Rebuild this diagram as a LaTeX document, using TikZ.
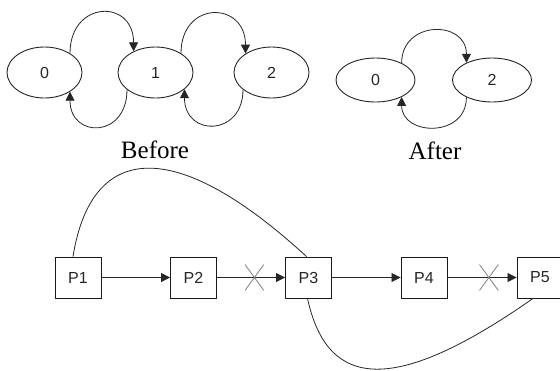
\documentclass[tikz,border=0pt]{standalone}
\usepackage{fontspec}
\setmainfont{Liberation Serif}
\setsansfont{Liberation Sans}
\usetikzlibrary{arrows.meta,positioning,shapes.geometric,shapes.misc}

\begin{document}
\begin{tikzpicture}[x=1pt,y=-1pt,>={Triangle[length=9pt,width=9pt]},
    every node/.style={font=\sffamily\fontsize{16}{18}\selectfont,text=black!85}]
  \tikzstyle{nodeE}=[ellipse,draw=black!85,line width=0.9pt,inner sep=0pt,minimum width=75pt,minimum height=51pt]
  \tikzstyle{nodeA}=[nodeE,minimum width=79pt,minimum height=44pt]
  \tikzstyle{nodeP}=[rectangle,draw=black!90,line width=0.9pt,minimum width=46pt,minimum height=41pt]
  \tikzstyle{nodeX}=[cross out,draw=gray,line width=0.8pt,minimum width=18pt,minimum height=25pt,inner sep=0pt]
  \tikzstyle{link}=[draw=black!85,line width=0.8pt]
  \tikzstyle{caption}=[font=\rmfamily\fontsize{25}{28}\selectfont,text=black]

  \useasboundingbox (0,0) rectangle (560,370);

  % before
  \node[nodeE] (s_0) at (44.5,72.5) {0};
  \node[nodeE] (s_1) at (155.5,72.5) {1};
  \node[nodeE] (s_2) at (271.5,72.5) {2};
  \node[caption] (before) at (155,150) {Before};

  \path[link,->] (s_0.37) .. controls +(0,-53) and +(0,-53) .. (s_1.136);
  \path[link,->] (s_1.211) .. controls +(0,49) and +(0,47) .. (s_0.-37);
  \path[link,->] (s_1.37) .. controls +(0,-53) and +(0,-53) .. (s_2.144);
  \path[link,->] (s_2.211) .. controls +(0,47) and +(0,48) .. (s_1.-30);

  % after
  \node[nodeA] (a_0) at (375.5,80) {0};
  \node[nodeA] (a_2) at (492,80) {2};
  \node[caption] (after) at (435,151) {After};

  \path[link,->] (a_0.33) .. controls +(0,-43) and +(0,-43) .. (a_2.146);
  \path[link,->] (a_2.214) .. controls +(0,41) and +(0,39) .. (a_0.-33);

  % processes
  \node[nodeP] (p_1) at (78,277.5) {P1};
  \node[nodeP] (p_2) at (193.5,277.5) {P2};
  \node[nodeP] (p_3) at (308.5,277.5) {P3};
  \node[nodeP] (p_4) at (424,277.5) {P4};
  \node[nodeP] (p_5) at (540,277.5) {P5};

  \path[link,->] (p_1) -- (p_2);
  \path[link,->] (p_2) -- node[nodeX,pos=0.55] (x_1) {} (p_3);
  \path[link,->] (p_3) -- (p_4);
  \path[link,->] (p_4) -- node[nodeX,pos=0.6] (x_2) {} (p_5);

  \path[link] ([xshift=-5pt]p_1.north) .. controls +(18,-112) and (172,133) .. ([xshift=-2pt]p_3.north);
  \path[link] ([xshift=-1pt]p_3.south) .. controls +(20,92) and (395,395) .. ([xshift=-7pt]p_5.south);
\end{tikzpicture}
\end{document}
